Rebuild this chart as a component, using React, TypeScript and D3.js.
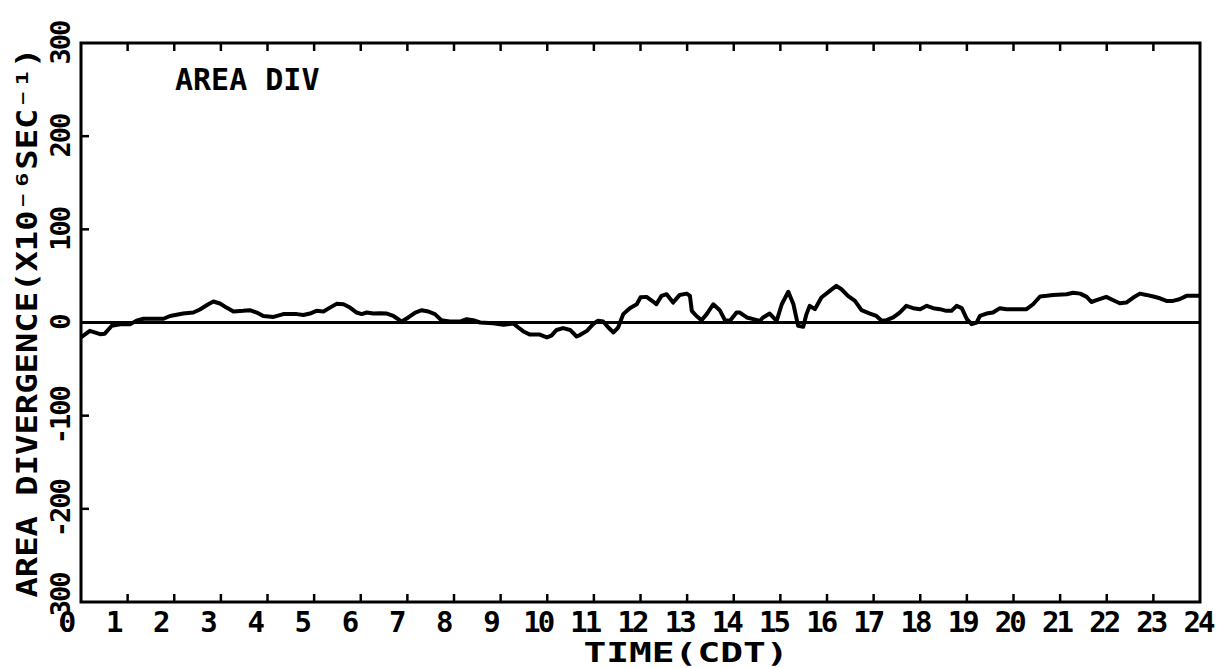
import React from "react";
import * as d3 from "d3";

// hours (CDT) and area divergence (x10^-6 s^-1)
const hours = [
  0.0, 0.19, 0.41, 0.51, 0.66, 0.84, 1.05, 1.19, 1.34, 1.77, 1.91, 2.19, 2.41, 2.55, 2.73, 2.84, 2.98,
  3.12, 3.27, 3.48, 3.62, 3.77, 3.91, 4.13, 4.34, 4.63, 4.77, 4.91, 5.05, 5.2, 5.34, 5.48, 5.63, 5.77,
  5.91, 6.02, 6.13, 6.27, 6.41, 6.56, 6.7, 6.88, 7.02, 7.17, 7.31, 7.45, 7.59, 7.73, 7.91, 8.13, 8.27,
  8.41, 8.56, 8.84, 9.06, 9.27, 9.38, 9.49, 9.63, 9.84, 9.99, 10.09, 10.2, 10.34, 10.49, 10.63, 10.7,
  10.85, 11.0, 11.09, 11.2, 11.31, 11.42, 11.52, 11.63, 11.77, 11.92, 12.0, 12.13, 12.27, 12.34, 12.45,
  12.56, 12.7, 12.84, 12.99, 13.06, 13.1, 13.2, 13.31, 13.42, 13.56, 13.7, 13.81, 13.92, 14.06, 14.13,
  14.28, 14.42, 14.56, 14.63, 14.77, 14.92, 15.03, 15.17, 15.28, 15.38, 15.49, 15.56, 15.63, 15.74,
  15.88, 16.06, 16.2, 16.31, 16.45, 16.6, 16.74, 16.92, 17.06, 17.17, 17.28, 17.42, 17.56, 17.7, 17.85,
  18.0, 18.14, 18.28, 18.42, 18.56, 18.67, 18.78, 18.89, 19.0, 19.1, 19.21, 19.28, 19.42, 19.56, 19.71,
  19.85, 20.14, 20.28, 20.42, 20.57, 20.71, 20.85, 21.14, 21.28, 21.43, 21.57, 21.67, 21.78, 21.99,
  22.14, 22.28, 22.42, 22.57, 22.71, 22.85, 23.0, 23.14, 23.28, 23.42, 23.56, 23.71, 23.85, 24.0,
];
const areaDiv = [
  -16, -9, -12.5, -12, -3.5, -2, -2, 2, 4, 4, 7, 9.6, 10.7, 14, 19.6, 22.5, 20.4,
  16, 11.8, 12.5, 13.2, 10.7, 7, 6, 9, 9, 8, 9.6, 12.5, 11.8, 16, 20, 19.6, 16,
  10.7, 9, 10.7, 9.6, 10, 9.6, 7, 1, 5.4, 10.7, 13.2, 11.8, 9, 2.5, 1, 1, 3.6,
  2.5, 0, -0.7, -2.5, -1, -5.4, -9.6, -13, -13, -16, -14, -8, -6, -8, -15, -13.5,
  -9, -1, 1.8, 1, -5.4, -10.7, -5.4, 9, 15.4, 19.6, 27, 27.5, 22.5, 19.6, 28.6,
  30.4, 21.4, 29.6, 31, 28.6, 12.5, 7, 2.5, 9, 19.6, 13.2, 2.5, 1.8, 10.7, 10.7,
  5.4, 3.6, 1.8, 5.4, 9.6, 1.8, 19.6, 33, 19.6, -3.6, -4.6, 9, 17.9, 14.3,
  26.8, 33.9, 39.3, 35.7, 28.6, 23.2, 13.2, 9.6, 7, 1.8, 2.5, 5.4, 10.7, 17.9, 15.4,
  14.3, 17.9, 15.4, 14.3, 12.5, 12.5, 17.9, 15.4, 3.6, -1.8, 0, 7, 9.6, 10.7, 15.4,
  14.3, 14.3, 14.3, 19.6, 27.9, 28.6, 29.6, 30.4, 32, 31, 27.5, 22, 23.9, 27.5,
  23.9, 20.7, 21.4, 26.8, 31, 29.6, 27.9, 26, 23.2, 23.2, 25, 28.6, 28.6, 28.6,
];

const hourTicks = d3.range(0, 25);
const valueTicks = [-300, -200, -100, 0, 100, 200, 300];
const innerValueTicks = [-200, -100, 0, 100, 200];

const width = 1228;
const height = 668;
const marginLeft = 81;
const marginRight = 28;
const marginTop = 43;
const marginBottom = 66;

const font = "'DejaVu Sans Mono', monospace";

export default function App() {
  const x = d3.scaleLinear([0, 24], [marginLeft, width - marginRight]);
  // the plotter lettering drifts slightly from the tick marks
  const xLabel = d3.scaleLinear([0, 24], [66, 1198]);
  const y = d3.scaleLinear([-300, 300], [height - marginBottom, marginTop]);

  const line = d3
    .line<number>()
    .x((d, i) => x(hours[i]))
    .y((d) => y(d));

  const x0 = x(0);
  const x1 = x(24);
  const yTop = y(300);
  const yBot = y(-300);

  return (
    <svg
      width={width}
      height={height}
      style={{ position: "absolute", left: 0, top: 0, background: "#fff" }}
    >
      {/* zero line */}
      <line x1={x0} x2={x1} y1={y(0)} y2={y(0)} stroke="#000" strokeWidth={3} />

      {/* trace */}
      <path
        d={line(areaDiv) ?? ""}
        fill="none"
        stroke="#000"
        strokeWidth={4}
        strokeLinejoin="round"
      />

      {/* frame */}
      <rect
        x={x0}
        y={yTop}
        width={x1 - x0}
        height={yBot - yTop}
        fill="none"
        stroke="#000"
        strokeWidth={3}
      />

      {/* hour ticks, bottom and top, pointing inward */}
      {hourTicks.slice(1, -1).map((h) => (
        <g key={"t" + h} stroke="#000" strokeWidth={2.5}>
          <line x1={x(h)} x2={x(h)} y1={yBot} y2={yBot - 8} />
          <line x1={x(h)} x2={x(h)} y1={yTop} y2={yTop + 8} />
        </g>
      ))}

      {/* value ticks on the left */}
      {innerValueTicks.map((v) => (
        <line
          key={"v" + v}
          x1={x0}
          x2={x0 + 8}
          y1={y(v)}
          y2={y(v)}
          stroke="#000"
          strokeWidth={2.5}
        />
      ))}

      {/* hour labels */}
      {hourTicks.map((h) => (
        <text
          key={"l" + h}
          x={xLabel(h)}
          y={632}
          textAnchor="middle"
          fontFamily={font}
          fontWeight="bold"
          fontSize={29}
          letterSpacing={-3}
        >
          {h}
        </text>
      ))}

      {/* value labels, rotated */}
      {valueTicks.map((v) => (
        <text
          key={"y" + v}
          transform={`translate(70,${y(v)}) rotate(-90)`}
          textAnchor="middle"
          fontFamily={font}
          fontWeight="bold"
          fontSize={27}
          letterSpacing={-2}
        >
          {v}
        </text>
      ))}

      {/* axis titles */}
      <text
        transform={`translate(37,${y(0)}) rotate(-90)`}
        textAnchor="middle"
        fontFamily={font}
        fontWeight="bold"
        fontSize={28}
        textLength={550}
        lengthAdjust="spacingAndGlyphs"
      >
        AREA DIVERGENCE(X10⁻⁶SEC⁻¹)
      </text>
      <text
        x={686}
        y={662}
        textAnchor="middle"
        fontFamily={font}
        fontWeight="bold"
        fontSize={27}
        textLength={205}
        lengthAdjust="spacingAndGlyphs"
      >
        TIME(CDT)
      </text>

      <text x={175} y={90} fontFamily={font} fontWeight="bold" fontSize={30}>
        AREA DIV
      </text>
    </svg>
  );
}
